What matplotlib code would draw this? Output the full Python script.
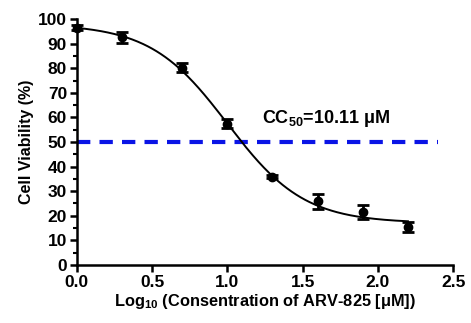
import numpy as np
import matplotlib
matplotlib.use("Agg")
import matplotlib.pyplot as plt
from matplotlib.ticker import MultipleLocator

plt.rcParams['font.family'] = ['Liberation Sans', 'DejaVu Sans']
plt.rcParams['font.weight'] = 'bold'
plt.rcParams['mathtext.fontset'] = 'custom'
plt.rcParams['mathtext.rm'] = 'Liberation Sans:bold'
plt.rcParams['mathtext.default'] = 'rm'

log_conc = [0.0, 0.3, 0.7, 1.0, 1.3, 1.6, 1.9, 2.2]
viability = [96.5, 92.5, 80.2, 57.5, 35.8, 25.8, 21.5, 15.5]
errors = [1.0, 2.2, 1.8, 2.0, 0.6, 3.0, 3.0, 2.0]

# 4-parameter logistic fit parameters
fit_bottom, fit_top, fit_logec50, fit_hill = 17.0, 98.0, 1.0, 1.7
cc50_level = 50
cc50_text = "CC$_{50}$=10.11 \u03bcM"

fig = plt.figure(figsize=(4.71, 3.23), dpi=100)
ax = fig.add_axes([0.163, 0.180, 0.799, 0.761])

xs = np.linspace(min(log_conc), max(log_conc), 300)
ys = fit_bottom + (fit_top - fit_bottom) / (1 + 10 ** (fit_hill * (xs - fit_logec50)))
ax.plot(xs, ys, color='black', lw=1.4, clip_on=False, zorder=3)

ax.errorbar(log_conc, viability, yerr=errors, fmt='o', color='black', ms=6,
            elinewidth=2, capsize=4, capthick=2, clip_on=False, zorder=4)

ax.plot([0, 2.4], [cc50_level, cc50_level], color='#0a14e6', lw=3,
        dashes=(3.2, 2.2), zorder=2)
ax.text(1.23, 59.5, cc50_text, fontsize=13, fontweight='bold', va='center', ha='left')

ax.set_xlim(0, 2.5)
ax.set_ylim(0, 100)
ax.set_xticks([0.0, 0.5, 1.0, 1.5, 2.0, 2.5])
ax.set_xticklabels(['0.0', '0.5', '1.0', '1.5', '2.0', '2.5'])
ax.set_yticks(range(0, 101, 10))
ax.yaxis.set_minor_locator(MultipleLocator(5))

for s in ['top', 'right']:
    ax.spines[s].set_visible(False)
for s in ['left', 'bottom']:
    ax.spines[s].set_linewidth(1.8)

ax.tick_params(axis='both', which='major', direction='out', width=1.8, length=5,
               labelsize=12.5, pad=2)
ax.tick_params(axis='y', which='minor', direction='out', width=1.5, length=3)
for lab in ax.get_xticklabels() + ax.get_yticklabels():
    lab.set_fontweight('bold')

ax.set_ylabel('Cell Viability (%)', fontsize=11.5, fontweight='bold', labelpad=3)
ax.set_xlabel('Log$_{10}$ (Consentration of ARV-825 [\u03bcM])', fontsize=11.8,
              fontweight='bold', labelpad=2)

fig.savefig('out.png', dpi=100)
